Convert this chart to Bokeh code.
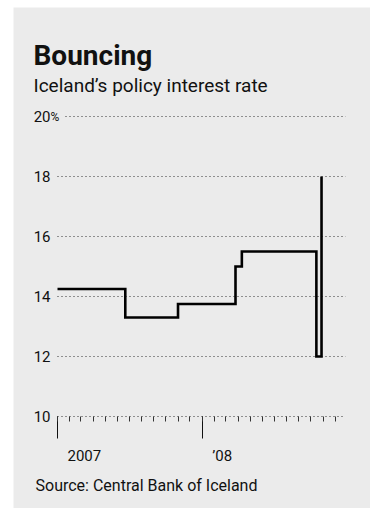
import pandas as pd
from bokeh.plotting import figure
from bokeh.models import Label, FixedTicker, Range1d, ColumnDataSource
from bokeh.embed import file_html
from bokeh.resources import INLINE

# ---- data ----
dates = ["2007-01-01", "2007-06-21", "2007-11-01", "2008-03-25",
         "2008-04-10", "2008-10-15", "2008-10-28"]
rates = [14.25, 13.30, 13.75, 15.0, 15.5, 12.0, 18.0]
y_ticks = [10, 12, 14, 16, 18, 20]
y_tick_labels = ["10", "12", "14", "16", "18", "20"]
x_tick_dates = ["2007-01-01", "2008-01-01"]
x_tick_labels = ["2007", "\u201908"]
chart_start, chart_end = "2007-01-01", "2008-12-28"
title_text = "Bouncing"
subtitle_text = "Iceland\u2019s policy interest rate"
source_text = "Source: Central Bank of Iceland"

BG = "#ebebeb"
FONT = "Roboto"
INK = "#111111"
GRID = "#333333"

def ms(d):
    return pd.Timestamp(d).value // 10**6

DAY = 86400000.0
W, H = 357, 501
px_per_day = 144.7 / 365.0          # horizontal scale
px_per_unit = 30.0                  # vertical scale
x0 = ms(chart_start)
left_px, bottom_px = 44, 92         # where 2007 / 10% sit inside the canvas
x_range = Range1d(x0 - left_px / px_per_day * DAY,
                  x0 + (W - left_px) / px_per_day * DAY)
y_range = Range1d(10 - bottom_px / px_per_unit,
                  10 + (H - bottom_px) / px_per_unit)

p = figure(width=W, height=H, margin=(7, 0, 0, 13),
           x_axis_type="datetime", x_range=x_range, y_range=y_range,
           toolbar_location=None, output_backend="svg",
           background_fill_color=BG, border_fill_color=BG,
           outline_line_color=None,
           min_border_left=0, min_border_right=0,
           min_border_top=0, min_border_bottom=0)
p.xgrid.visible = False
p.ygrid.visible = False

# dotted gridlines (the 20% one starts after the % sign)
grid_vals = [t for t in y_ticks if 10 < t <= 20]
gx0 = [x0 + (8 / px_per_day * DAY if t == 20 else 0) for t in grid_vals]
p.segment(x0=gx0, y0=grid_vals, x1=[ms(chart_end)] * len(grid_vals), y1=grid_vals,
          line_color=GRID, line_dash="1 3", line_width=1)

# y axis (labels only)
ya = p.yaxis[0]
ya.fixed_location = x0
ya.ticker = FixedTicker(ticks=y_ticks)
ya.major_label_overrides = dict(zip(y_ticks, y_tick_labels))
ya.axis_line_color = None
ya.major_tick_line_color = None
ya.minor_tick_line_color = None
ya.major_tick_out = 0
ya.major_tick_in = 0
ya.major_label_standoff = 7
ya.major_label_text_font = FONT
ya.major_label_text_font_size = "15px"
ya.major_label_text_color = INK

# x axis (dotted baseline at 10 with month ticks)
month_ticks = [ms(d) for d in pd.date_range(chart_start, "2008-12-01", freq="MS")]
xa = p.xaxis[0]
xa.fixed_location = 10
xa.bounds = (x0, ms(chart_end))
xa.ticker = FixedTicker(ticks=[ms(d) for d in x_tick_dates], minor_ticks=month_ticks)
xa.axis_line_color = GRID
xa.axis_line_dash = "1 3"
xa.major_tick_line_color = INK
xa.major_tick_out = 22
xa.major_tick_in = 0
xa.minor_tick_line_color = "#333333"
xa.minor_tick_out = 5
xa.minor_tick_in = 0
xa.major_label_text_color = None

# line
src = ColumnDataSource(dict(date=pd.to_datetime(dates), rate=rates))
p.step(x="date", y="rate", source=src, mode="after",
       line_color="black", line_width=2.6, line_join="miter")

# texts
def lab(text, x, y, size, bold=False, x_units="screen", y_units="screen",
        align="left", baseline="alphabetic", x_offset=0):
    l = Label(text=text, x=x, y=y, x_units=x_units, y_units=y_units,
              text_font=FONT, text_font_size=size,
              text_font_style="bold" if bold else "normal",
              text_color=INK, text_align=align, text_baseline=baseline,
              x_offset=x_offset)
    p.add_layout(l)
    return l

lab(title_text, 20, H - 48, "28px", bold=True)
lab(subtitle_text, 20, H - 78, "19px")
lab(source_text, 22, H - 478, "16px")
lab("%", x0, 20, "12px", x_units="data", y_units="data", baseline="middle", x_offset=-7)
for d, t in zip(x_tick_dates, x_tick_labels):
    lab(t, ms(d), H - 448, "15px", x_units="data", x_offset=10)

open("out.html", "w").write(file_html(p, INLINE))
